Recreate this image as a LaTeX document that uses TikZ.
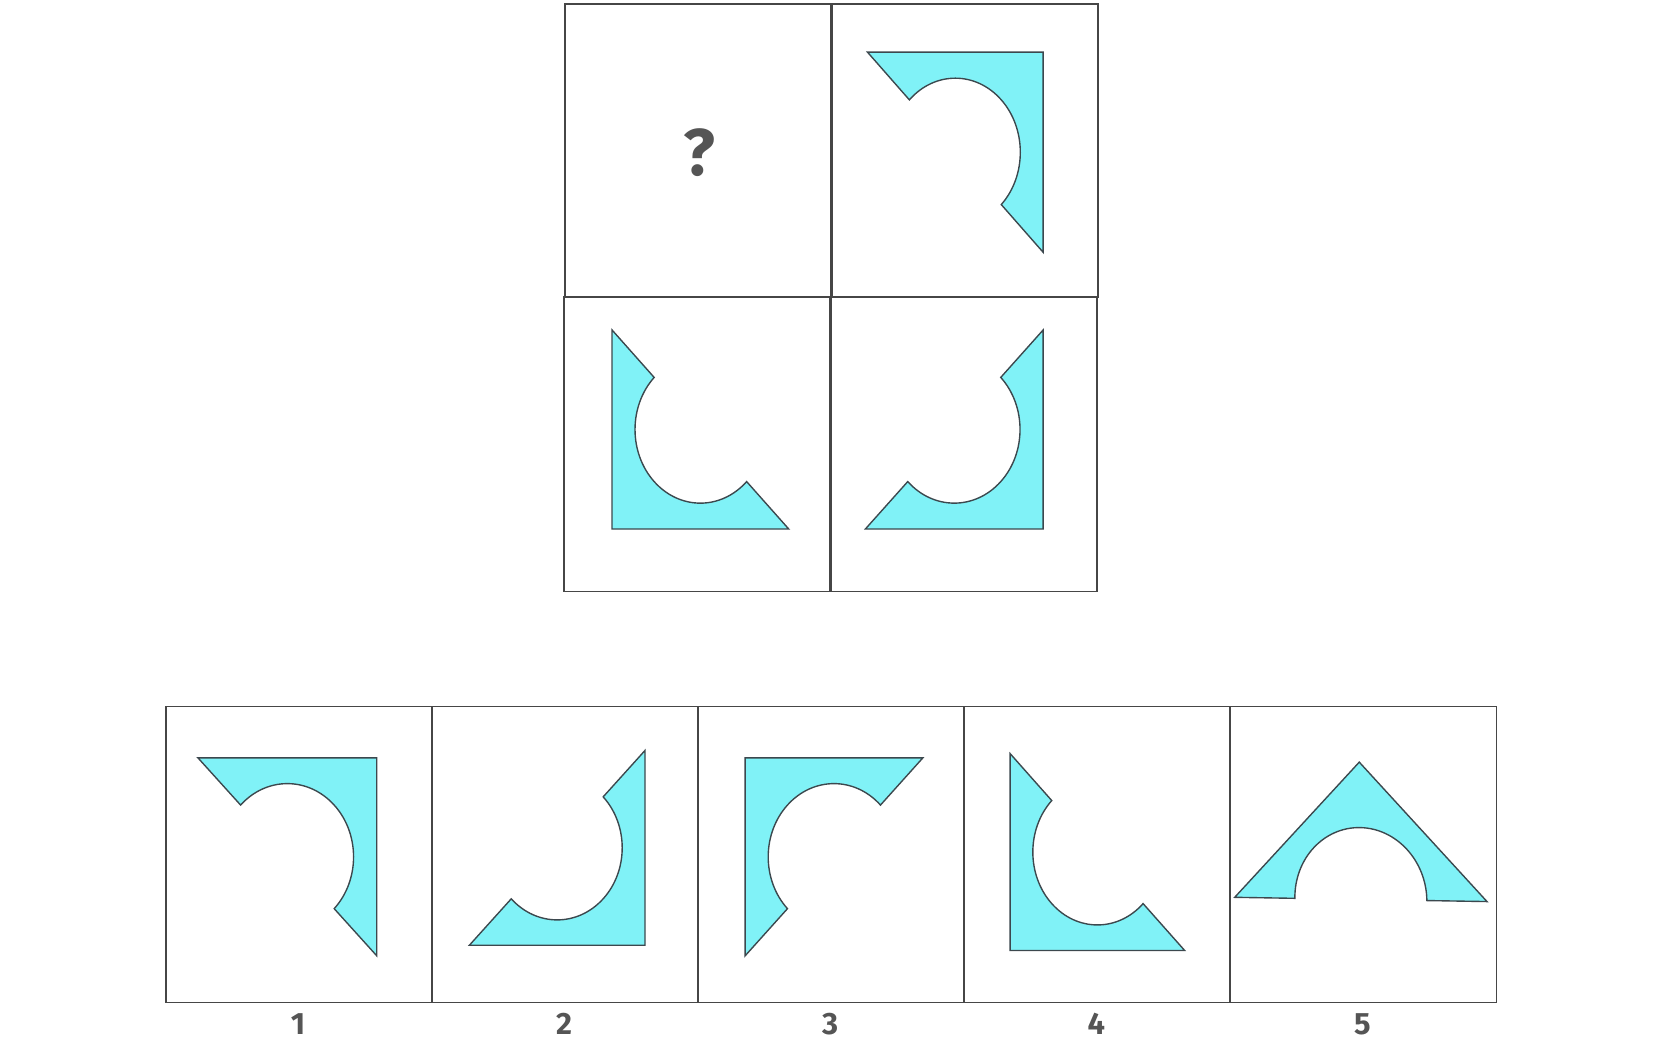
\documentclass[tikz,border=0pt]{standalone}
\usepackage{fontspec}
\setmainfont{Fira Sans}
\definecolor{fillcyan}{RGB}{128,242,247}
\definecolor{edgegray}{RGB}{60,72,78}
\definecolor{gridgray}{RGB}{70,70,70}
\definecolor{textgray}{RGB}{85,85,85}
\tikzset{
  piece/.style={fill=fillcyan, draw=edgegray, line width=1.3pt, line join=miter},
  cellbox/.style={draw=gridgray, line width=1.6pt, minimum width=250pt, minimum height=276pt, inner sep=0pt, anchor=north west},
  optbox/.style={draw=gridgray, line width=1.6pt, minimum width=250pt, minimum height=278pt, inner sep=0pt, anchor=north west},
  numlabel/.style={text=textgray, inner sep=0pt, font=\bfseries\fontsize{29}{30}\selectfont},
}
% corner x, corner y, arm u (x,y), arm v (x,y) in image pixels (y down)
\newcommand{\drawpiece}[6]{%
  \begin{scope}[shift={(#1pt,-#2pt)}, x={(#3pt,-#4pt)}, y={(#5pt,-#6pt)}]
    \filldraw[piece] (0,0) -- (1,0) -- (0.7616,0.2384)
      arc[start angle=-45, end angle=-225, radius=0.37] -- (0,1) -- cycle;
  \end{scope}}
\begin{document}
\begin{tikzpicture}[x=1pt, y=-1pt]
\useasboundingbox (0,0) rectangle (1568,977);
% top 2x2 grid
\node[cellbox, minimum height=275pt] (q11) at (530,3) {};
\node[cellbox, minimum height=275pt] (q12) at (781,3) {};
\node[cellbox, minimum height=277pt] (q21) at (529,278) {};
\node[cellbox, minimum height=277pt] (q22) at (780,278) {};
\node[text=textgray, font=\bfseries\fontsize{62}{64}\selectfont] (qm) at (657,143) {?};
\drawpiece{980}{49}{-165}{0}{0}{188}
\drawpiece{575}{497}{0}{-187}{166}{0}
\drawpiece{980}{497}{-167}{0}{0}{-187}
% options row
\node[optbox] (o1) at (155,663) {};
\node[optbox] (o2) at (405,663) {};
\node[optbox] (o3) at (655,663) {};
\node[optbox] (o4) at (905,663) {};
\node[optbox] (o5) at (1155,663) {};
\drawpiece{354}{712}{-168}{0}{0}{186}
\drawpiece{606}{888}{0}{-183}{-165}{0}
\drawpiece{700}{712}{167}{0}{0}{186}
\drawpiece{949}{893}{0}{-185}{164}{0}
\drawpiece{1277}{716}{-117}{127}{120}{131}
\node[numlabel] (l1) at (280,962) {1};
\node[numlabel] (l2) at (530,962) {2};
\node[numlabel] (l3) at (780,962) {3};
\node[numlabel] (l4) at (1030,962) {4};
\node[numlabel] (l5) at (1280,962) {5};
\end{tikzpicture}
\end{document}
